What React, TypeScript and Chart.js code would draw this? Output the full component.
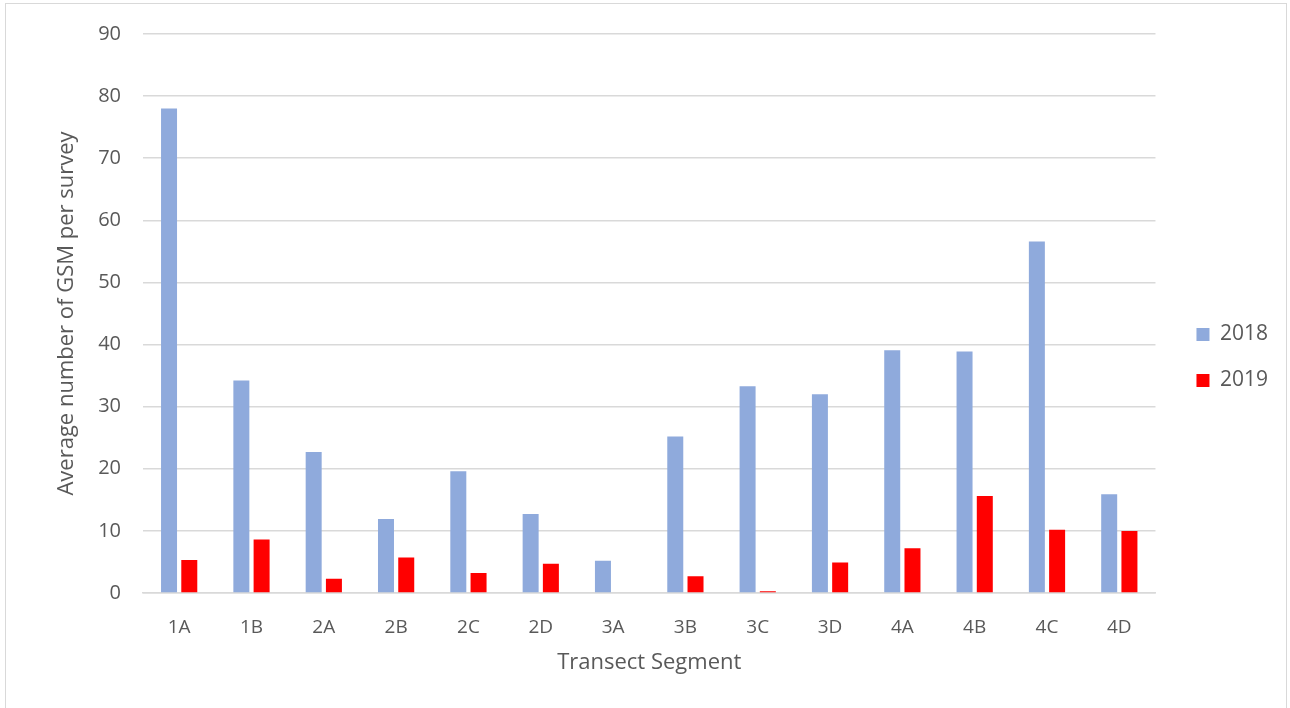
import React, { useEffect, useRef } from "react";
import { Chart, registerables } from "chart.js";

Chart.register(...registerables);

const categories = ["1A", "1B", "2A", "2B", "2C", "2D", "3A", "3B", "3C", "3D", "4A", "4B", "4C", "4D"];
const series2018 = [78, 34.2, 22.7, 11.9, 19.6, 12.7, 5.2, 25.2, 33.3, 32, 39.1, 38.9, 56.6, 15.9];
const series2019 = [5.3, 8.6, 2.3, 5.7, 3.2, 4.7, 0, 2.7, 0.3, 4.9, 7.2, 15.6, 10.2, 10.0];
const seriesLabels = ["2018", "2019"];
const yTitle = "Average number of GSM per survey";
const xTitle = "Transect Segment";

const TEXT = "#595959";
const GRID = "#d9d9d9";
const FONT = "'Open Sans', sans-serif";

export default function App() {
  const ref = useRef<HTMLCanvasElement | null>(null);

  useEffect(() => {
    if (!ref.current) return;
    const chart = new Chart(ref.current, {
      type: "bar",
      data: {
        labels: categories,
        datasets: [
          {
            label: seriesLabels[0],
            data: series2018,
            backgroundColor: "#8FAADC",
            categoryPercentage: 0.56,
            barPercentage: 0.79,
            yAxisID: "y",
          },
          {
            label: seriesLabels[1],
            data: series2019,
            backgroundColor: "#FF0000",
            categoryPercentage: 0.56,
            barPercentage: 0.79,
            yAxisID: "y",
          },
        ],
      },
      options: {
        animation: false,
        responsive: false,
        maintainAspectRatio: false,
        layout: { padding: { left: 0, right: 12, top: 33, bottom: 26 } },
        plugins: {
          tooltip: { enabled: false },
          legend: {
            position: "right",
            labels: {
              boxWidth: 13,
              boxHeight: 13,
              padding: 25,
              color: TEXT,
              font: { family: FONT, size: 21 },
            },
          },
        },
        scales: {
          x: {
            grid: { display: false, drawTicks: false },
            border: { display: true, color: GRID, width: 1.5 },
            ticks: { color: TEXT, font: { family: FONT, size: 19 }, padding: 23 },
            title: {
              display: true,
              text: xTitle,
              color: TEXT,
              font: { family: FONT, size: 22 },
              padding: { top: 0, bottom: 6 },
            },
            afterFit: (s: any) => {
              s.height = 89;
            },
          },
          y: {
            min: 0,
            max: 90,
            ticks: { stepSize: 10, color: TEXT, font: { family: FONT, size: 20 }, padding: 22 },
            grid: { color: GRID, lineWidth: 1.5, drawTicks: false },
            border: { display: false },
            title: {
              display: true,
              text: yTitle,
              color: TEXT,
              font: { family: FONT, size: 22 },
              padding: { top: 54, bottom: 0 },
            },
            afterFit: (s: any) => {
              s.width = 143;
            },
          },
          gap: {
            type: "linear",
            position: "right",
            display: true,
            grid: { display: false, drawTicks: false },
            border: { display: false },
            ticks: { display: false },
            afterFit: (s: any) => {
              s.width = 16;
            },
          },
        },
      },
    });
    return () => chart.destroy();
  }, []);

  return (
    <div style={{ position: "fixed", left: 0, top: 0, width: 1290, height: 708, background: "#fff" }}>
      <div
        style={{
          position: "absolute",
          left: 5,
          top: 3,
          width: 1282,
          height: 720,
          border: "1px solid #d9d9d9",
          boxSizing: "border-box",
        }}
      />
      <canvas ref={ref} width={1290} height={708} style={{ position: "absolute", left: 0, top: 0 }} />
    </div>
  );
}
